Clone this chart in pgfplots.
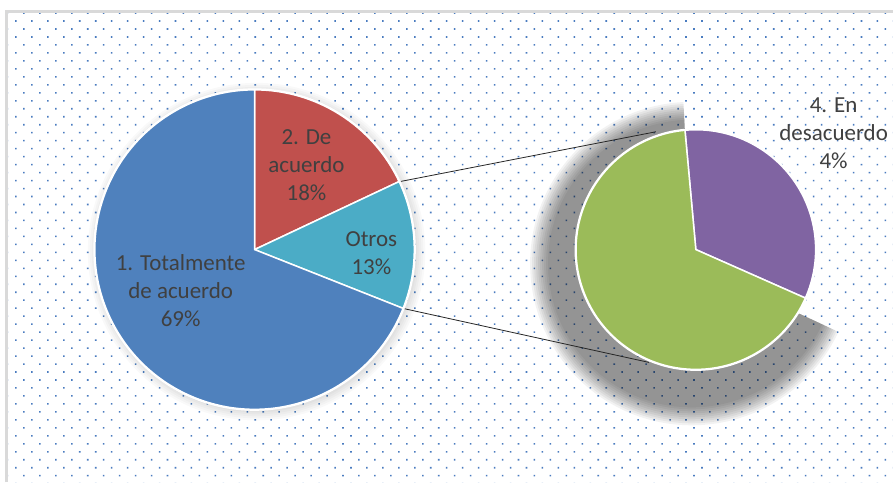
\documentclass[border=0pt]{standalone}
\usepackage{fontspec}
\setmainfont{Carlito}
\usepackage{pgfplots}
\usepackage{pgfplotstable}
\pgfplotsset{compat=1.18}
\usetikzlibrary{patterns.meta}
\definecolor{pieblue}{HTML}{4F81BD}
\definecolor{piered}{HTML}{C0504D}
\definecolor{pieteal}{HTML}{4BACC6}
\definecolor{piegreen}{HTML}{9BBB59}
\definecolor{piepurple}{HTML}{8064A2}
\definecolor{txtgray}{HTML}{404040}
\definecolor{dotblue}{HTML}{4A7CC0}
\definecolor{framegray}{HTML}{D9D9D9}

% main pie (percent)
\pgfplotstableread{
idx value
1 69
2 18
3 13
}\mainpie
% second pie: split of "Otros" (percent of total)
\pgfplotstableread{
idx value
3 8.7
4 4.3
}\secondpie

\begin{document}
\begin{tikzpicture}
\pgfplotstablegetelem{0}{value}\of\mainpie \let\vTot\pgfplotsretval
\pgfplotstablegetelem{1}{value}\of\mainpie \let\vDe\pgfplotsretval
\pgfplotstablegetelem{2}{value}\of\mainpie \let\vOtros\pgfplotsretval
\pgfplotstablegetelem{0}{value}\of\secondpie \let\vNeu\pgfplotsretval
\pgfplotstablegetelem{1}{value}\of\secondpie \let\vDes\pgfplotsretval
% main pie angles (clockwise from top)
\pgfmathsetmacro\aA{90}
\pgfmathsetmacro\aB{\aA-\vDe*3.6}
\pgfmathsetmacro\aC{\aB-\vOtros*3.6}
\pgfmathsetmacro\aD{\aC-\vTot*3.6}
% second pie angles
\pgfmathsetmacro\bA{95.2}
\pgfmathsetmacro\bB{\bA-\vDes/(\vNeu+\vDes)*360}
\pgfmathsetmacro\bC{\bB-\vNeu/(\vNeu+\vDes)*360}
\begin{axis}[hide axis, scale only axis, width=894pt, height=483pt,
  xmin=0, xmax=894, ymin=0, ymax=483, clip=false]
% background
\fill[white] (axis cs:0,0) rectangle (axis cs:894,483);
\fill[pattern={Dots[distance=11.3pt, angle=45, radius=1.1pt]}, pattern color=dotblue]
  (axis cs:9,0) rectangle (axis cs:894,469);
\draw[framegray, line width=3pt] (axis cs:7,0) -- (axis cs:7,471) -- (axis cs:894,471);
% soft shadow of second pie
\pgfplotsinvokeforeach{144,146,...,162}{
  \fill[black, opacity=0.05] (axis cs:693,219) -- ++(93:#1pt) arc[start angle=93, end angle=335, radius=#1pt] -- cycle;
}
% faint shadow of main pie
\pgfplotsinvokeforeach{161,163,...,169}{
  \fill[black, opacity=0.025] (axis cs:257,231) circle[radius=#1pt];
}
% connector lines
\draw[black!85, line width=0.8pt] (axis cs:400,301) -- (axis cs:657,351);
\draw[black!85, line width=0.8pt] (axis cs:404,174) -- (axis cs:650,120);
% main pie
\fill[white] (axis cs:255,233) circle[radius=161.5pt];
\filldraw[fill=piered, draw=white, line width=1.5pt] (axis cs:255,233) -- ++(\aA:160pt) arc[start angle=\aA, end angle=\aB, radius=160pt] -- cycle;
\filldraw[fill=pieteal, draw=white, line width=1.5pt] (axis cs:255,233) -- ++(\aB:160pt) arc[start angle=\aB, end angle=\aC, radius=160pt] -- cycle;
\filldraw[fill=pieblue, draw=white, line width=1.5pt] (axis cs:255,233) -- ++(\aC:160pt) arc[start angle=\aC, end angle=\aD, radius=160pt] -- cycle;
% second pie
\fill[white] (axis cs:697,233) circle[radius=121.5pt];
\filldraw[fill=piepurple, draw=white, line width=1.5pt] (axis cs:697,233) -- ++(\bA:120pt) arc[start angle=\bA, end angle=\bB, radius=120pt] -- cycle;
\filldraw[fill=piegreen, draw=white, line width=1.5pt] (axis cs:697,233) -- ++(\bB:120pt) arc[start angle=\bB, end angle=\bC, radius=120pt] -- cycle;
% labels
\node[align=center, text=txtgray, inner sep=0pt, font=\fontsize{23}{28}\selectfont] at (axis cs:307,318) {2. De\\acuerdo\\18\%};
\node[align=center, text=txtgray, inner sep=0pt, font=\fontsize{23}{28}\selectfont] at (axis cs:372,229) {Otros\\13\%};
\node[align=center, text=txtgray, inner sep=0pt, font=\fontsize{23}{28}\selectfont] at (axis cs:181,192) {1. Totalmente\\de acuerdo\\69\%};
\node[align=center, text=txtgray, inner sep=0pt, font=\fontsize{23}{28}\selectfont] at (axis cs:835,350) {4. En\\desacuerdo\\4\%};
\end{axis}
\end{tikzpicture}
\end{document}
